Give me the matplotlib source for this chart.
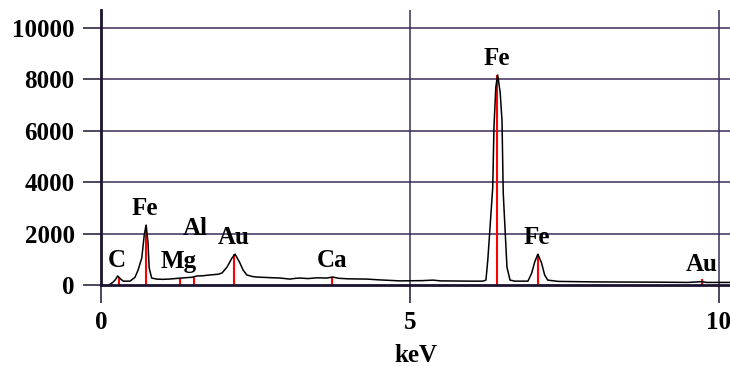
import matplotlib
matplotlib.use("Agg")
import matplotlib.pyplot as plt

# Spectrum (keV, counts)
energy_kev = [0.13, 0.19, 0.23, 0.27, 0.31, 0.36, 0.47, 0.55, 0.60, 0.66, 0.70, 0.73,
              0.76, 0.78, 0.82, 0.90, 1.00, 1.10, 1.20, 1.30, 1.40, 1.47, 1.55, 1.65,
              1.76, 1.90, 1.96, 2.04, 2.12, 2.17, 2.24, 2.30, 2.36, 2.45, 2.52, 2.70,
              2.90, 3.06, 3.15, 3.22, 3.35, 3.50, 3.65, 3.75, 3.85, 4.00, 4.30, 4.50,
              4.84, 5.20, 5.37, 5.50, 6.00, 6.18, 6.23, 6.26, 6.29, 6.34, 6.36, 6.39,
              6.42, 6.46, 6.49, 6.51, 6.54, 6.57, 6.62, 6.70, 6.91, 6.97, 7.02, 7.07,
              7.13, 7.18, 7.23, 7.40, 8.00, 9.00, 9.50, 9.72, 9.80, 10.18]
counts = [0, 100, 200, 350, 250, 150, 150, 300, 580, 1050, 1950, 2330,
          1670, 660, 270, 230, 220, 230, 250, 270, 290, 300, 350, 360,
          390, 420, 470, 700, 1050, 1200, 900, 580, 390, 330, 310, 290,
          270, 230, 260, 270, 250, 280, 270, 310, 260, 240, 230, 200,
          160, 170, 190, 160, 150, 150, 190, 970, 2020, 3800, 6150, 7700,
          8170, 7500, 6400, 3580, 2140, 700, 190, 150, 150, 460, 900, 1200,
          860, 390, 190, 140, 120, 110, 100, 130, 100, 100]

# Element markers
elements = ["C", "Fe", "Mg", "Al", "Au", "Ca", "Fe", "Fe", "Au"]
marker_kev = [0.29, 0.73, 1.28, 1.50, 2.16, 3.74, 6.41, 7.07, 9.72]
marker_counts = [300, 2330, 260, 300, 1200, 300, 8170, 1200, 230]
label_kev = [0.26, 0.71, 1.26, 1.52, 2.15, 3.74, 6.41, 7.06, 9.72]
label_counts = [970, 2960, 900, 2180, 1830, 970, 8830, 1830, 780]

x_ticks = [0, 5, 10]
y_ticks = [0, 2000, 4000, 6000, 8000, 10000]

grid_col = "#3a2c58"
spine_col = "#1c1330"
font = {"family": "Liberation Serif", "weight": "bold", "size": 18}

fig = plt.figure(figsize=(7.30, 3.66), dpi=100)
ax = fig.add_axes([101 / 730, 81 / 366, 629 / 730, 275 / 366])
ax.set_xlim(0, 10.18)
ax.set_ylim(0, 10700)

for y in y_ticks[1:]:
    ax.axhline(y, color=grid_col, lw=1.1, zorder=1)
for x in x_ticks[1:]:
    ax.axvline(x, color=grid_col, lw=1.1, zorder=1)

ax.vlines(marker_kev, 0, marker_counts, color="#ff0000", lw=1.5, zorder=2)
ax.plot(energy_kev, counts, color="black", lw=1.1, zorder=3)

for name, lx, ly in zip(elements, label_kev, label_counts):
    ax.text(lx, ly, name, ha="center", va="center", zorder=4, **font)

for s in ["top", "right"]:
    ax.spines[s].set_visible(False)
for s in ["left", "bottom"]:
    ax.spines[s].set_color(spine_col)
    ax.spines[s].set_linewidth(2.0)
    ax.spines[s].set_zorder(5)

ax.set_xticks(x_ticks)
ax.set_yticks(y_ticks)
ax.tick_params(axis="both", length=13, width=1.1, color=spine_col, pad=6)
for lab in ax.get_xticklabels() + ax.get_yticklabels():
    lab.set_fontfamily("Liberation Serif")
    lab.set_fontweight("bold")
    lab.set_fontsize(18)

ax.set_xlabel("keV", labelpad=7, **font)

fig.savefig("out.png", dpi=100)
